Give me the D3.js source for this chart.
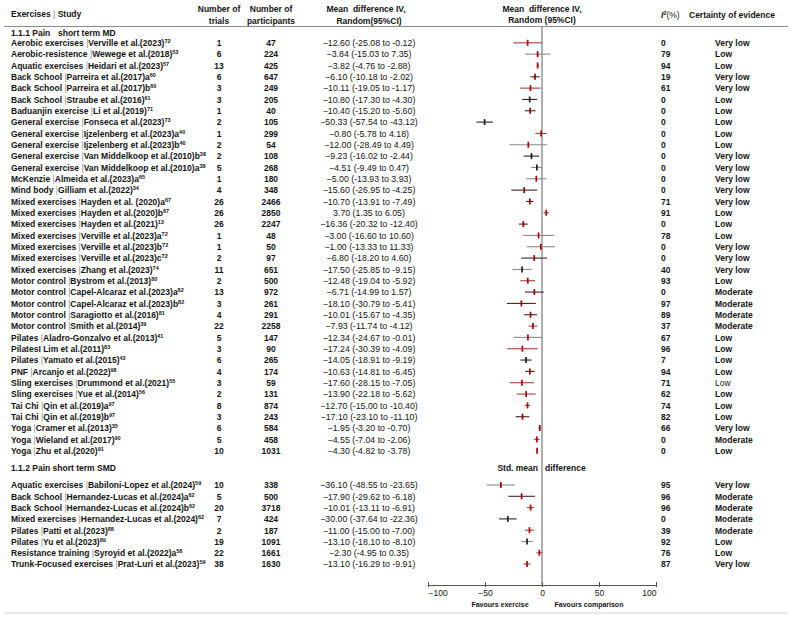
<!DOCTYPE html>
<html><head><meta charset="utf-8">
<script src="https://cdn.jsdelivr.net/npm/d3@7"></script>
<style>
body{margin:0;background:#fff}
svg text{font-family:"Liberation Sans",Arial,Helvetica,sans-serif;fill:#141414}
</style></head><body>
<svg id="c" width="791" height="617"></svg>
<script>
// ---------------- data ----------------
const exercises = ["Aerobic exercises","Aerobic-resistence","Aquatic exercises","Back School","Back School","Back School","Baduanjin exercise","General exercise","General exercise","General exercise","General exercise","General exercise","McKenzie","Mind body","Mixed exercises","Mixed exercises","Mixed exercises","Mixed exercises","Mixed exercises","Mixed exercises","Mixed exercises","Motor control","Motor control","Motor control","Motor control","Motor control","Pilates","PilatesI","Pilates","PNF","Sling exercises","Sling exercises","Tai Chi","Tai Chi","Yoga","Yoga","Yoga",
  "Aquatic exercises","Back School","Back School","Mixed exercises","Pilates","Pilates","Resistance training","Trunk-Focused exercises"];
const studies = ["Verville et al.(2023)","Wewege et al.(2018)","Heidari et al.(2023)","Parreira et al.(2017)a","Parreira et al.(2017)b","Straube et al.(2016)","Li et al.(2019)","Fonseca et al.(2023)","Ijzelenberg et al.(2023)a","Ijzelenberg et al.(2023)b","Van Middelkoop et al.(2010)b","Van Middelkoop et al.(2010)a","Almeida et al.(2023)a","Gilliam et al.(2022)","Hayden et al. (2020)a","Hayden et al.(2020)b","Hayden et al.(2021)","Verville et al.(2023)a","Verville et al.(2023)b","Verville et al.(2023)c","Zhang et al.(2023)","Bystrom et al.(2013)","Capel-Alcaraz et al.(2023)a","Capel-Alcaraz et al.(2023)b","Saragiotto et al.(2016)","Smith et al.(2014)","Aladro-Gonzalvo et al.(2013)","Lim et al.(2011)","Yamato et al.(2015)","Arcanjo et al.(2022)","Drummond et al.(2021)","Yue et al.(2014)","Qin et al.(2019)a","Qin et al.(2019)b","Cramer et al.(2013)","Wieland et al.(2017)","Zhu et al.(2020)",
  "Babiloni-Lopez et al.(2024)","Hernandez-Lucas et al.(2024)a","Hernandez-Lucas et al.(2024)b","Hernandez-Lucas et al.(2024)","Patti et al.(2023)","Yu et al.(2023)","Syroyid et al.(2022)a","Prat-Luri et al.(2023)"];
const refs = ["72","53","57","60","60","61","71","73","40","40","38","38","65","34","67","67","13","72","72","72","74","80","82","82","81","39","41","83","43","98","55","56","97","97","35","90","91",
  "59","62","62","62","88","89","58","59"];
const trials = [1,6,13,6,3,3,1,2,1,2,2,5,1,4,26,26,26,1,1,2,11,2,13,3,4,22,5,3,6,4,3,2,8,3,6,5,10,
  10,5,20,7,2,19,22,38];
const participants = [47,224,425,647,249,205,40,105,299,54,108,268,180,348,2466,2850,2247,48,50,97,651,500,972,261,291,2258,147,90,265,174,59,131,874,243,584,458,1031,
  338,500,3718,424,187,1091,1661,1630];
const meanDiff = [-12.60,-3.84,-3.82,-6.10,-10.11,-10.80,-10.40,-50.33,-0.80,-12.00,-9.23,-4.51,-5.00,-15.60,-10.70,3.70,-16.36,-3.00,-1.00,-6.80,-17.50,-12.48,-6.71,-18.10,-10.01,-7.93,-12.34,-17.24,-14.05,-10.63,-17.60,-13.90,-12.70,-17.10,-1.95,-4.55,-4.30,
  -36.10,-17.90,-10.01,-30.00,-11.00,-13.10,-2.30,-13.10];
const ciLow = [-25.08,-15.03,-4.76,-10.18,-19.05,-17.30,-15.20,-57.54,-5.78,-28.49,-16.02,-9.49,-13.93,-26.95,-13.91,1.35,-20.32,-16.60,-13.33,-18.20,-25.85,-19.04,-14.99,-30.79,-15.67,-11.74,-24.67,-30.39,-18.91,-14.81,-28.15,-22.18,-15.00,-23.10,-3.20,-7.04,-4.82,
  -48.55,-29.62,-13.11,-37.64,-15.00,-18.10,-4.95,-16.29];
const ciHigh = [-0.12,7.35,-2.88,-2.02,-1.17,-4.30,-5.60,-43.12,4.18,4.49,-2.44,0.47,3.93,-4.25,-7.49,6.05,-12.40,10.60,11.33,4.60,-9.15,-5.92,1.57,-5.41,-4.35,-4.12,-0.01,-4.09,-9.19,-6.45,-7.05,-5.62,-10.40,-11.10,-0.70,-2.06,-3.78,
  -23.65,-6.18,-6.91,-22.36,-7.00,-8.10,0.35,-9.91];
const i2 = [0,79,94,19,61,0,0,0,0,0,0,0,0,0,71,91,0,78,0,0,40,93,0,97,89,37,67,96,7,94,71,62,74,82,66,0,0,
  95,96,96,0,39,92,76,87];
const certainty = ["Very low","Low","Low","Very low","Very low","Low","Low","Low","Low","Low","Very low","Very low","Very low","Very low","Very low","Low","Low","Low","Very low","Very low","Very low","Low","Moderate","Moderate","Moderate","Moderate","Low","Low","Low","Low","Low","Low","Low","Low","Very low","Moderate","Low",
  "Very low","Moderate","Moderate","Moderate","Moderate","Low","Low","Very low"];
const subgroupSizes = [37, 8];           // 1.1.1 MD rows, 1.1.2 SMD rows
const axisTicks = [-100, -50, 0, 50, 100];

// ---------------- styles (kept apart from data) ----------------
const ciTone = ["r","g","r","k","r","K","k","K","r","g","K","G","g","k","k","r","k","g","g","k","G","r","k","k","k","r","g","r","K","k","r","r","r","k","r","r","r",
  "g","k","r","K","r","G","r","r"];
const lineCol = {r:"#9a4444", g:"#8a8a8a", k:"#4a2222", K:"#262626", G:"#8a8a8a"};
const tickCol = {r:"#b30000", g:"#b30000", k:"#9a0000", K:"#1e1e1e", G:"#1e1e1e"};
const noBarRows = [27];
const lightCertRows = [30];

// ---------------- drawing ----------------
const svg = d3.select("#c");
const FONT = 8.5;
const x = d3.scaleLinear().domain([-100, 100]).range([428, 656]);
const yMD = d3.scaleLinear().domain([0, subgroupSizes[0]-1]).range([42.8, 450.7]);
const ySMD = d3.scaleLinear().domain([0, subgroupSizes[1]-1]).range([485, 564.1]);
const rowY = i => i < subgroupSizes[0] ? yMD(i) : ySMD(i - subgroupSizes[0]);

function txt(xp, yp, s, o = {}) {
  return svg.append("text").attr("x", xp).attr("y", yp)
    .attr("font-size", o.size || FONT)
    .attr("font-weight", o.weight || "bold")
    .attr("text-anchor", o.anchor || "start")
    .text(s);
}

// header
const hdr = txt(11, 17, "Exercises ");
hdr.append("tspan").attr("fill", "#888").attr("font-weight", "normal").text("|");
hdr.append("tspan").text(" Study");
txt(219, 12, "Number of", {anchor: "middle"});
txt(219, 24, "trials", {anchor: "middle"});
txt(271, 12, "Number of", {anchor: "middle"});
txt(271, 24, "participants", {anchor: "middle"});
txt(366, 12, "Mean  difference IV,", {anchor: "middle"}).attr("xml:space", "preserve");
txt(369, 24, "Random(95%CI)", {anchor: "middle"});
txt(542, 12, "Mean  difference IV,", {anchor: "middle"}).attr("xml:space", "preserve");
txt(542, 23, "Random (95%CI)", {anchor: "middle"});
const ih = txt(661, 18, "");
ih.append("tspan").attr("font-style", "italic").text("I");
ih.append("tspan").attr("font-size", 5.5).attr("dy", -3).text("2");
ih.append("tspan").attr("dy", 3).attr("font-weight", "normal").text("(%)");
txt(689, 18, "Certainty of evidence");

svg.append("line").attr("x1", 4).attr("x2", 788).attr("y1", 26.5).attr("y2", 26.5)
  .attr("stroke", "#8c8c8c").attr("stroke-width", 1);
svg.append("line").attr("x1", 4).attr("x2", 788).attr("y1", 613).attr("y2", 613)
  .attr("stroke", "#d4d4d4").attr("stroke-width", 1);

// subgroup headings
txt(11, 36, "1.1.1 Pain");
txt(58, 36, "short term MD");
txt(11, 470.5, "1.1.2 Pain short term SMD");
txt(538, 471, "Std. mean", {anchor: "end"});
txt(545, 471, "difference");

// zero line
svg.append("line").attr("x1", x(0)).attr("x2", x(0)).attr("y1", 26.5).attr("y2", 585)
  .attr("stroke", "#9c9c9c").attr("stroke-width", 1.6);

const fmt = d3.format(".2f");
const neg = v => (v < 0 ? "-" : "") + fmt(Math.abs(v));

meanDiff.forEach((m, i) => {
  const cy = rowY(i), ty = cy + 3.3;
  // label
  const t = txt(11, ty, exercises[i] + " ");
  if (!noBarRows.includes(i)) t.append("tspan").attr("fill", "#8a8a8a").attr("font-weight", "normal").text("|");
  t.append("tspan").text(studies[i]);
  t.append("tspan").attr("font-size", 5.5).attr("dy", -3).text(refs[i]);
  txt(219, ty, trials[i], {anchor: "middle"});
  txt(271, ty, participants[i], {anchor: "middle"});
  const est = (m < 0 ? "\u2212" : "") + fmt(Math.abs(m));
  txt(369, ty, `${est} (${neg(ciLow[i])} to ${neg(ciHigh[i])})`, {anchor: "middle", weight: "normal", size: 8.8});
  txt(661, ty, i2[i]);
  txt(715, ty, certainty[i], {weight: lightCertRows.includes(i) ? "normal" : "bold"});
  // forest marks
  const tone = ciTone[i];
  svg.append("line").attr("x1", x(ciLow[i])).attr("x2", x(ciHigh[i])).attr("y1", cy).attr("y2", cy)
    .attr("stroke", lineCol[tone]).attr("stroke-width", 1.1);
  svg.append("line").attr("x1", x(m)).attr("x2", x(m)).attr("y1", cy - 3).attr("y2", cy + 3)
    .attr("stroke", tickCol[tone]).attr("stroke-width", 1.7);
});

// axis
const ax = svg.append("g").attr("transform", "translate(0,585)")
  .call(d3.axisBottom(x).tickValues(axisTicks).tickSizeInner(2).tickSizeOuter(0).tickPadding(3));
ax.select(".domain").attr("stroke", "#555");
ax.selectAll(".tick line").attr("stroke", "#555").attr("y1", -3).attr("y2", 2);
ax.selectAll(".tick text").attr("font-size", 8.5).attr("font-weight", "normal")
  .attr("font-family", "Liberation Sans, Arial, sans-serif").attr("fill", "#222")
  .attr("text-anchor", d => d === -100 ? "start" : d === 100 ? "end" : "middle");
txt(500, 606.5, "Favours exercise", {anchor: "middle", size: 7});
txt(589, 606.5, "Favours comparison", {anchor: "middle", size: 7});
</script>
</body></html>
